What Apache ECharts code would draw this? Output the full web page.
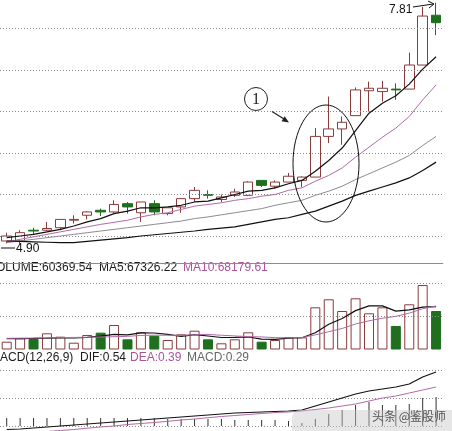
<!DOCTYPE html>
<html><head><meta charset="utf-8">
<script src="https://cdn.jsdelivr.net/npm/echarts@6/dist/echarts.min.js"></script>
<style>html,body{margin:0;padding:0;background:#fff}#c{width:452px;height:431px}</style>
</head><body><div id="c"></div>
<script>
// ---- data ----
const days = ['1','2','3','4','5','6','7','8','9','10','11','12','13','14','15','16','17','18','19','20','21','22','23','24','25','26','27','28','29','30','31','32','33'];
const opens  = [4.94,4.94,5.07,5.07,5.10,5.19,5.25,5.31,5.29,5.39,5.28,5.39,5.27,5.35,5.45,5.50,5.44,5.49,5.49,5.67,5.60,5.65,5.67,5.71,6.20,6.29,6.45,6.75,6.74,6.77,6.77,7.06,7.66];
const closes = [5.00,5.04,5.06,5.09,5.20,5.20,5.29,5.29,5.38,5.35,5.41,5.29,5.34,5.45,5.55,5.49,5.47,5.53,5.65,5.61,5.65,5.72,5.71,6.20,6.29,6.37,6.76,6.78,6.78,6.76,7.06,7.65,7.57];
const lows   = [4.91,4.90,5.02,5.06,5.07,5.15,5.20,5.24,5.28,5.27,5.17,5.25,5.25,5.28,5.41,5.45,5.41,5.47,5.48,5.59,5.57,5.65,5.59,5.71,6.12,6.10,6.45,6.50,6.62,6.64,6.77,7.06,7.42];
const highs  = [5.04,5.07,5.10,5.17,5.20,5.25,5.30,5.33,5.43,5.41,5.41,5.43,5.34,5.45,5.59,5.55,5.50,5.57,5.66,5.67,5.67,5.76,5.72,6.30,6.68,6.44,6.79,6.86,6.87,6.84,7.21,7.76,7.81];
const ma5  = [4.98,5.00,5.02,5.05,5.08,5.12,5.17,5.21,5.27,5.30,5.34,5.34,5.35,5.37,5.41,5.42,5.46,5.50,5.54,5.55,5.58,5.63,5.67,5.78,5.91,6.06,6.27,6.48,6.60,6.69,6.83,7.01,7.16];
const ma10 = [4.93,4.96,4.99,5.02,5.05,5.08,5.11,5.14,5.165,5.19,5.23,5.26,5.28,5.32,5.36,5.38,5.40,5.43,5.45,5.48,5.50,5.55,5.58,5.66,5.73,5.82,5.95,6.07,6.19,6.30,6.44,6.64,6.82];
const ma20 = [4.92,4.94,4.96,4.98,5.00,5.02,5.04,5.06,5.08,5.10,5.12,5.14,5.16,5.18,5.21,5.23,5.255,5.28,5.305,5.33,5.37,5.40,5.43,5.49,5.54,5.60,5.68,5.75,5.82,5.89,5.97,6.09,6.20];
const ma60 = [4.94,4.935,4.93,4.925,4.92,4.92,4.935,4.95,4.965,4.98,5.00,5.015,5.03,5.045,5.06,5.08,5.095,5.11,5.14,5.17,5.20,5.22,5.26,5.30,5.36,5.42,5.49,5.54,5.59,5.64,5.70,5.79,5.89];
const volumes = [12230,17560,16460,25400,20070,10660,22740,26340,38420,15990,26970,21640,14900,23830,29480,15990,9720,15990,26970,12230,14900,19130,19130,66170,78710,60370,80280,56760,66170,36850,70870,101140,60369.54];
const volMa5  = [17000,17200,17400,17800,18340,18030,19070,21040,23650,22830,26090,25870,23580,20670,23360,21170,18780,19000,19630,16180,15960,17840,18470,26310,39610,48700,60930,68460,68460,60090,62190,66360,67326.22];
const volMa10 = [17500,17800,18000,18300,18600,18900,19200,19600,20100,20590,22060,22470,22310,22160,23100,23630,22330,21290,20150,19770,18570,18310,18740,22970,27890,33000,40000,45000,49000,52000,57000,64000,68179.61];
const dif  = [-0.035,-0.03,-0.02,-0.01,0.00,0.01,0.02,0.03,0.04,0.05,0.06,0.07,0.08,0.09,0.10,0.11,0.12,0.13,0.135,0.14,0.145,0.15,0.16,0.20,0.24,0.28,0.32,0.35,0.37,0.39,0.42,0.49,0.54];
const dea  = [-0.09,-0.08,-0.07,-0.055,-0.045,-0.035,-0.022,-0.01,0.00,0.015,0.025,0.035,0.047,0.06,0.07,0.083,0.095,0.105,0.115,0.125,0.135,0.14,0.15,0.165,0.18,0.20,0.22,0.25,0.28,0.30,0.33,0.36,0.39];
const macdHist = [0.08,0.08,0.08,0.08,0.08,0.08,0.08,0.08,0.08,0.08,0.08,0.08,0.07,0.07,0.07,0.07,0.07,0.06,0.06,0.06,0.06,0.05,0.03,0.07,0.12,0.16,0.21,0.24,0.21,0.21,0.22,0.28,0.29];
const priceGridLines = [5.0,5.5,6.0,6.5,7.0,7.5];
const volGridLines = [52500,104300];
const macdGridLines = [0,0.28,0.56];
const highLabel = '7.81';
const lowLabel = '4.90';

// ---- styles ----
const UP = '#8a3b3b', DOWN = '#1f6f1f', PINK = '#b36aa6', PINKTXT = '#a8559b', GRAY = '#8e8a94';
const FONT = '12px "Liberation Sans", Arial, sans-serif';
const dotted = {type:[1,2], color:'#8a8a8a', width:1};
function gridMark(vals){
  return {symbol:['none','none'], silent:true, animation:false, label:{show:false},
    lineStyle:dotted, emphasis:{disabled:true}, data: vals.map(v=>({yAxis:v}))};
}
const candleData = opens.map((o,i)=>[o, closes[i], lows[i], highs[i]]);
const volData = volumes.map((v,i)=>{
  const up = closes[i] >= opens[i];
  return {value:v, itemStyle: up ? {color:'#fff', borderColor:UP, borderWidth:1} : {color:DOWN, borderColor:DOWN, borderWidth:1}};
});

const gl = -10.67, gr = 9.2;
const xBase = (gi, showLine) => ({type:'category', gridIndex:gi, data:days, boundaryGap:true,
  axisLine:{show:showLine, lineStyle:{color:'#8c8c8c', width:1}}, axisTick:{show:false}, axisLabel:{show:false}, splitLine:{show:false}});
const yBase = (gi, min, max) => ({type:'value', gridIndex:gi, min:min, max:max, show:false, splitLine:{show:false}});
const lineS = (name, data, xi, yi, color, w, z) => ({name, type:'line', data, xAxisIndex:xi, yAxisIndex:yi,
  symbol:'none', smooth:false, lineStyle:{color, width:w}, z:z||5, silent:true, animation:false});

const chart = echarts.init(document.getElementById('c'), null, {renderer:'canvas'});
const last = closes.length-1;
chart.setOption({
  animation:false,
  backgroundColor:'#fff',
  grid:[
    {left:gl, right:gr, top:0, height:263},
    {left:gl, right:gr, top:263, height:86.5},
    {left:gl, right:gr, top:363, height:68}
  ],
  xAxis:[xBase(0,true), xBase(1,false), xBase(2,false)],
  yAxis:[yBase(0,4.6747,7.8434), yBase(1,0,135632), yBase(2,-0.05,0.63)],
  series:[
    {type:'candlestick', data:candleData, xAxisIndex:0, yAxisIndex:0, barWidth:10, silent:true,
      itemStyle:{color:'#fff', color0:DOWN, borderColor:UP, borderColor0:DOWN, borderWidth:1},
      markLine:gridMark(priceGridLines), z:3},
    lineS('MA5', ma5, 0,0,'#111',1.2,6),
    lineS('MA10', ma10, 0,0,PINK,1,6),
    lineS('MA20', ma20, 0,0,GRAY,1,6),
    lineS('MA60', ma60, 0,0,'#111',1.2,6),
    {type:'bar', data:volData, xAxisIndex:1, yAxisIndex:1, barWidth:10, silent:true, markLine:gridMark(volGridLines), z:3},
    lineS('VMA5', volMa5, 1,1,'#111',1.2,6),
    lineS('VMA10', volMa10, 1,1,PINK,1,6),
    {type:'bar', data:macdHist, xAxisIndex:2, yAxisIndex:2, barWidth:1, silent:true,
      itemStyle:{color:'#3a3030'}, markLine:gridMark(macdGridLines), z:3},
    lineS('DIF', dif, 2,2,'#111',1.2,6),
    lineS('DEA', dea, 2,2,PINK,1,6)
  ],
  graphic:[
    // panel titles
    {type:'text', x:-12, y:268, style:{text:'VOLUME:'+volumes[last].toFixed(2), font:FONT, fill:'#1a1a1a', verticalAlign:'middle'}},
    {type:'text', x:99, y:268, style:{text:'MA5:'+volMa5[last].toFixed(2), font:FONT, fill:'#1a1a1a', verticalAlign:'middle'}},
    {type:'text', x:183, y:268, style:{text:'MA10:'+volMa10[last].toFixed(2), font:FONT, fill:PINKTXT, verticalAlign:'middle'}},
    {type:'text', x:-10, y:358, style:{text:'MACD(12,26,9)', font:FONT, fill:'#1a1a1a', verticalAlign:'middle'}},
    {type:'text', x:80, y:358, style:{text:'DIF:'+dif[last].toFixed(2), font:FONT, fill:'#1a1a1a', verticalAlign:'middle'}},
    {type:'text', x:130, y:358, style:{text:'DEA:'+dea[last].toFixed(2), font:FONT, fill:PINKTXT, verticalAlign:'middle'}},
    {type:'text', x:187, y:358, style:{text:'MACD:'+macdHist[last].toFixed(2), font:FONT, fill:'#666', verticalAlign:'middle'}},
    // high / low labels
    {type:'text', x:389, y:10, style:{text:highLabel, font:FONT, fill:'#111', verticalAlign:'middle'}},
    {type:'line', shape:{x1:413, y1:7, x2:433, y2:4}, style:{stroke:'#111', lineWidth:1}},
    {type:'polyline', shape:{points:[[428,1],[434,4],[429,8]]}, style:{stroke:'#111', lineWidth:1, fill:null}},
    {type:'text', x:16, y:249, style:{text:lowLabel, font:FONT, fill:'#111', verticalAlign:'middle'}},
    {type:'line', shape:{x1:1, y1:248, x2:15, y2:248}, style:{stroke:'#111', lineWidth:1}},
    // annotation
    {type:'ellipse', shape:{cx:326, cy:163.5, rx:33, ry:58.5}, style:{stroke:'#111', lineWidth:1, fill:null}, z:50},
    {type:'circle', shape:{cx:256, cy:99, r:11.5}, style:{stroke:'#222', lineWidth:1, fill:null}},
    {type:'text', x:256, y:99.5, style:{text:'1', font:'16px "Liberation Serif", serif', fill:'#222', align:'center', verticalAlign:'middle'}},
    {type:'line', shape:{x1:272, y1:111.5, x2:284, y2:119}, style:{stroke:'#222', lineWidth:1.2}},
    {type:'polygon', shape:{points:[[289,122.5],[281.5,121.3],[284.7,116.3]]}, style:{fill:'#222'}},
    // watermark
    {type:'rect', shape:{x:292, y:410, width:160, height:21, r:[8,0,0,0]}, style:{fill:'rgba(200,200,200,0.45)'}, z:60},
    {type:'text', x:372, y:416, style:{text:'头条 @鉴股师', font:'12px "Noto Sans CJK SC", sans-serif', fill:'#555', verticalAlign:'middle'}, z:61}
  ]
});
</script></body></html>
